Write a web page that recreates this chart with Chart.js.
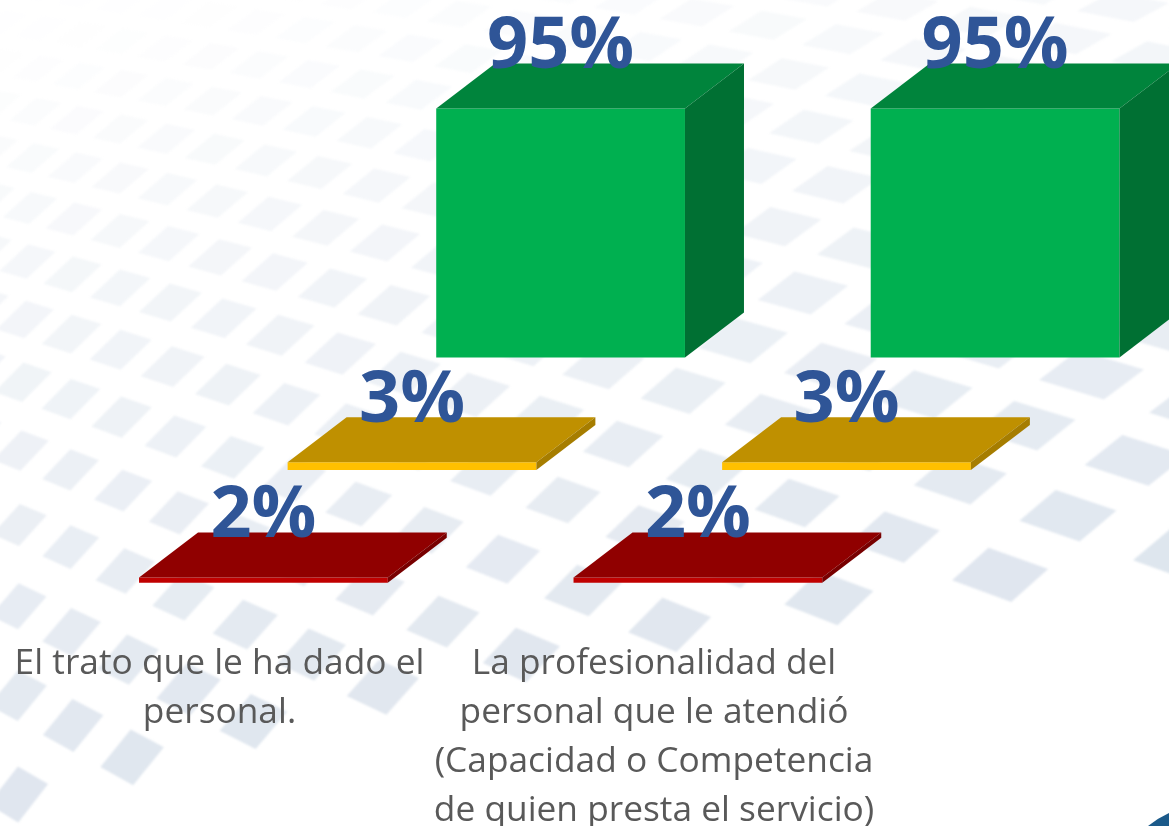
<!DOCTYPE html>
<html>
<head>
<meta charset="utf-8">
<script src="https://cdn.jsdelivr.net/npm/chart.js@4"></script>
<style>html,body{margin:0;padding:0;background:#fff;overflow:hidden}canvas{display:block}</style>
</head>
<body>
<canvas id="c" width="1169" height="826"></canvas>
<script>
const categories = [
  ["El trato que le ha dado el", "personal."],
  ["La profesionalidad del", "personal que le atendió", "(Capacidad o Competencia", "de quien presta el servicio)"]
];
const seriesRed = [2, 2];
const seriesYellow = [3, 3];
const seriesGreen = [95, 95];

const FRONT = ["#C00000", "#FFC000", "#00B050"];
const TOP_FACE = ["#900000", "#BF9000", "#00843C"];
const SIDE_FACE = ["#780000", "#A67D00", "#007033"];
const DEPTH_X = 59, DEPTH_Y = 45;

// [u, v, x, y] samples of the decorative floor tiles
const TILE_ANCHORS = [
  [0,-3,33,68],[2,-3,122,88],[4,-3,213,103],[6,-3,302,117],[7,-3,350,128],
  [0,-2,35,112],[2,-2,122,132],[4,-2,210,152],[6,-2,308,173],[7,-2,360,188],
  [0,-1,40,160],[2,-1,125,180],[4,-1,213,200],[6,-1,315,228],[7,-1,368,242],
  [0,0,40,208],[0,1,35,260],[0,2,32,317],[0,3,32,380],[0,4,27,448],[0,5,22,522],[0,6,18,600],[0,7,17,687],[0,8,13,775],
  [2,0,127,232],[2,1,125,288],[2,2,125,350],[2,3,125,415],[2,4,122,493],[2,5,122,575],[2,6,118,663],[2,7,125,757],
  [3,4,177,518],[3,5,178,605],[3,6,183,695],
  [4,0,222,257],[4,1,223,317],[4,2,227,385],[4,5,242,635],[4,6,252,728],
  [5,5,310,665],
  [6,0,330,283],[6,1,338,350],[6,3,357,508],[6,4,372,603],[6,5,385,693],
  [7,0,390,298],[7,1,398,367],[7,4,453,628],
  [8,1,477,390],[8,2,487,478],[8,3,507,563],[8,4,530,645],
  [9,1,548,410],[9,2,567,502],[9,3,587,592],
  [10,0,603,367],[10,1,627,442],[10,2,650,522],[10,3,673,618],
  [11,0,685,387],[11,1,702,468],
  [12,0,763,412],[12,1,802,498],[12,2,833,592],
  [13,-4,752,163],[13,-3,780,227],[13,-2,800,293],[13,-1,827,365],[13,0,860,445],[13,1,900,530],
  [14,-7,782,23],[14,-6,797,75],[14,-5,818,128],[14,-4,833,188],[14,-3,862,253],
  [15,-7,852,38],[15,-6,860,88],
  [14,-1,927,395],[14,0,960,482],[14,1,1003,568],
  [15,-1,1037,430],[15,0,1067,515],
  [16,-2,1087,383],[16,-1,1133,467],[16,0,1160,557]
];

function solve(A, b) {
  const n = b.length;
  for (let c = 0; c < n; c++) {
    let p = c;
    for (let r = c + 1; r < n; r++) if (Math.abs(A[r][c]) > Math.abs(A[p][c])) p = r;
    [A[c], A[p]] = [A[p], A[c]]; [b[c], b[p]] = [b[p], b[c]];
    for (let r = c + 1; r < n; r++) {
      const f = A[r][c] / A[c][c];
      for (let k = c; k < n; k++) A[r][k] -= f * A[c][k];
      b[r] -= f * b[c];
    }
  }
  const x = new Array(n).fill(0);
  for (let r = n - 1; r >= 0; r--) {
    let s = b[r];
    for (let k = r + 1; k < n; k++) s -= A[r][k] * x[k];
    x[r] = s / A[r][r];
  }
  return x;
}
function leastSquares(rows, targets) {
  const n = rows[0].length;
  const A = Array.from({length: n}, () => new Array(n).fill(0)), B = new Array(n).fill(0);
  rows.forEach((row, m) => {
    for (let a = 0; a < n; a++) {
      B[a] += row[a] * targets[m];
      for (let c = 0; c < n; c++) A[a][c] += row[a] * row[c];
    }
  });
  return solve(A, B);
}
const hRows = [], hT = [];
TILE_ANCHORS.forEach(([u, v, x, y]) => {
  const i = u + v, j = v;
  hRows.push([i, j, 1, 0, 0, 0, -x * i, -x * j]); hT.push(x);
  hRows.push([0, 0, 0, i, j, 1, -y * i, -y * j]); hT.push(y);
});
const H = leastSquares(hRows, hT);
function baseProject(i, j) {
  const w = H[6] * i + H[7] * j + 1;
  return {x: (H[0] * i + H[1] * j + H[2]) / w, y: (H[3] * i + H[4] * j + H[5]) / w, w};
}
const warpBasis = (p) => { const a = p.x / 1000, b = p.y / 1000; return [1, a, b, a * a, a * b, b * b]; };
const wRows = [], wX = [], wY = [];
TILE_ANCHORS.forEach(([u, v, x, y]) => {
  const p = baseProject(u + v, v);
  wRows.push(warpBasis(p)); wX.push(x - p.x); wY.push(y - p.y);
});
const WX = leastSquares(wRows, wX), WY = leastSquares(wRows, wY);
function project(i, j) {
  const p = baseProject(i, j), b = warpBasis(p);
  let dx = 0, dy = 0;
  b.forEach((t, k) => { dx += t * WX[k]; dy += t * WY[k]; });
  return {x: p.x + dx, y: p.y + dy, w: p.w};
}
const FADE_LINE = [[0,805],[150,785],[300,755],[450,715],[700,645],[900,610],[1169,600]];
function fadeY(x) {
  for (let k = 1; k < FADE_LINE.length; k++) {
    if (x <= FADE_LINE[k][0]) {
      const [a, b] = FADE_LINE[k - 1], [c, d] = FADE_LINE[k];
      return b + (d - b) * (x - a) / (c - a);
    }
  }
  return FADE_LINE[FADE_LINE.length - 1][1];
}
const backdrop = {
  id: "backdrop",
  beforeDraw(chart) {
    const ctx = chart.ctx;
    ctx.save();
    ctx.fillStyle = "#fff";
    ctx.fillRect(0, 0, chart.width, chart.height);
    ctx.filter = "blur(1px)";
    for (let j = -22; j <= 14; j++) {
      for (let i = -22; i <= 44; i++) {
        const c = project(i, j);
        if (c.w <= 0.02 || c.x < -70 || c.x > 1240 || c.y < -50 || c.y > fadeY(c.x)) continue;
        const s = c.y < 350 ? 0.31 : c.y > 500 ? 0.27 : 0.31 - 0.04 * (c.y - 350) / 150;
        const q = [project(i - s, j - s), project(i + s, j - s), project(i + s, j + s), project(i - s, j + s)];
        const alpha = Math.max(0.02, Math.min(1, -0.03 + 0.0011 * c.y + 0.00025 * c.x));
        ctx.fillStyle = `rgba(218,226,236,${alpha})`;
        ctx.beginPath();
        q.forEach((p, k) => k ? ctx.lineTo(p.x, p.y) : ctx.moveTo(p.x, p.y));
        ctx.closePath();
        ctx.fill();
      }
    }
    ctx.filter = "none";
    ctx.fillStyle = "#1B5A8A";
    ctx.beginPath();
    ctx.moveTo(1148, 826);
    ctx.quadraticCurveTo(1158, 818, 1169, 813);
    ctx.lineTo(1169, 826);
    ctx.closePath();
    ctx.fill();
    ctx.restore();
  }
};
const bars3d = {
  id: "bars3d",
  afterDatasetsDraw(chart) {
    const ctx = chart.ctx;
    ctx.save();
    chart.data.datasets.forEach((ds, d) => {
      chart.getDatasetMeta(d).data.forEach((bar) => {
        const l = bar.x - bar.width / 2, r = bar.x + bar.width / 2, t = bar.y, b = bar.base;
        ctx.fillStyle = TOP_FACE[d];
        ctx.beginPath();
        ctx.moveTo(l, t); ctx.lineTo(l + DEPTH_X, t - DEPTH_Y); ctx.lineTo(r + DEPTH_X, t - DEPTH_Y); ctx.lineTo(r, t);
        ctx.closePath(); ctx.fill();
        ctx.fillStyle = SIDE_FACE[d];
        ctx.beginPath();
        ctx.moveTo(r, t); ctx.lineTo(r + DEPTH_X, t - DEPTH_Y); ctx.lineTo(r + DEPTH_X, b - DEPTH_Y); ctx.lineTo(r, b);
        ctx.closePath(); ctx.fill();
      });
    });
    ctx.fillStyle = "#2F5597";
    ctx.textAlign = "center";
    ctx.textBaseline = "alphabetic";
    ctx.font = "bold 72px 'Open Sans'";
    chart.data.datasets.forEach((ds, d) => {
      chart.getDatasetMeta(d).data.forEach((bar, n) => {
        ctx.fillText(ds.data[n] + "%", bar.x, bar.y - DEPTH_Y + 5);
      });
    });
    ctx.restore();
  }
};
const PX_PER_UNIT = 2.62;
const yAxis = (min) => ({type: "linear", display: false, min, max: min + 582.7 / PX_PER_UNIT});
new Chart(document.getElementById("c"), {
  type: "bar",
  data: {
    labels: categories,
    datasets: [
      {label: "Red", data: seriesRed, backgroundColor: FRONT[0], yAxisID: "yRed", clip: false},
      {label: "Yellow", data: seriesYellow, backgroundColor: FRONT[1], yAxisID: "yYellow", clip: false},
      {label: "Green", data: seriesGreen, backgroundColor: FRONT[2], yAxisID: "yGreen", clip: false}
    ]
  },
  plugins: [backdrop, bars3d],
  options: {
    responsive: false,
    animation: false,
    layout: {padding: {left: 194.75, right: 105.25, top: 0, bottom: 0}},
    categoryPercentage: 1.026,
    barPercentage: 1.674,
    plugins: {legend: {display: false}, tooltip: {enabled: false}, title: {display: false}},
    scales: {
      x: {
        grid: {display: false, drawTicks: false},
        border: {display: false},
        afterFit(s) { s.height = 243.3; },
        ticks: {
          color: "#595959",
          font: {family: "'Open Sans'", size: 35.3, lineHeight: 1.39},
          padding: 57,
          labelOffset: -192.5,
          autoSkip: false,
          maxRotation: 0,
          minRotation: 0
        }
      },
      yRed: yAxis(0),
      yYellow: yAxis(-43),
      yGreen: yAxis(-86)
    }
  }
});
</script>
</body>
</html>
